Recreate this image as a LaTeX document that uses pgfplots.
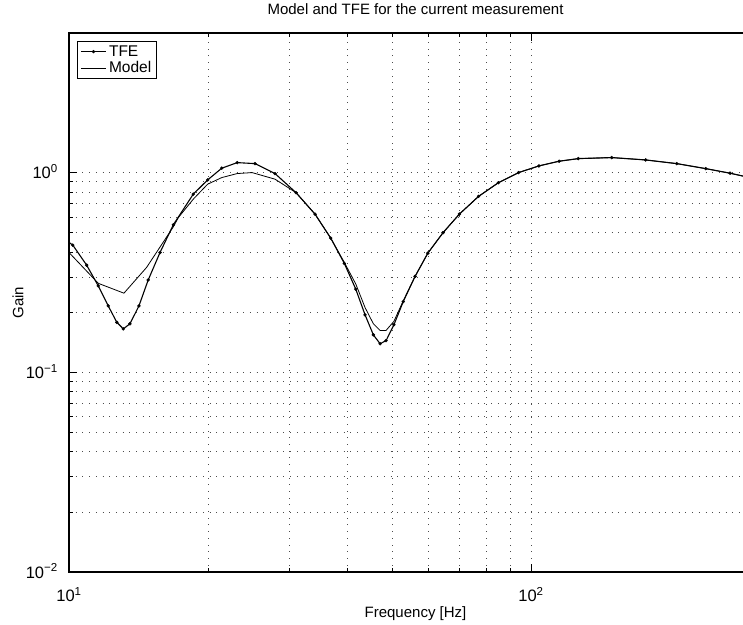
\documentclass[border=0pt]{standalone}
\usepackage{fontspec}
\setmainfont{Liberation Sans}
\usepackage{pgfplots}
\pgfplotsset{compat=1.18}
\begin{document}
\begin{tikzpicture}
\path[use as bounding box] (-69pt,-52pt) rectangle (674pt,572pt);
\begin{loglogaxis}[
  scale only axis, width=693pt, height=539pt,
  at={(0pt,0pt)}, anchor=south west,
  xmin=10, xmax=316.2, ymin=0.01, ymax=5,
  xtick={10,100}, xticklabels={10\textsuperscript{1},10\textsuperscript{2}},
  ytick={0.01,0.1,1}, yticklabels={10\textsuperscript{−2},10\textsuperscript{−1},10\textsuperscript{0}},
  tick label style={font=\fontsize{16.5}{18}\selectfont},
  xticklabel style={anchor=base, inner sep=0pt, yshift=-29.7pt},
  yticklabel style={anchor=base east, inner sep=0pt, xshift=-11pt, yshift=-6pt},
  tick align=inside, xtick pos=both, ytick pos=both,
  major tick length=8pt, minor tick length=4.5pt,
  every tick/.style={black, line width=0.6pt},
  grid=both,
  major grid style={black!70, line width=0.7pt, dash pattern=on 0.7pt off 6pt},
  minor grid style={black!70, line width=0.7pt, dash pattern=on 0.7pt off 6pt},
  axis line style={black, line width=1.3pt},
  title={Model and TFE for the current measurement},
  title style={font=\fontsize{15}{17}\selectfont, at={(axis description cs:0.5,1)}, anchor=base, yshift=13pt},
  xlabel={Frequency [Hz]},
  xlabel style={font=\fontsize{15}{17}\selectfont, at={(axis description cs:0.5,-0.0853)}, anchor=base},
  ylabel={Gain},
  ylabel style={font=\fontsize{15}{17}\selectfont, at={(axis description cs:-0.066,0.5)}, anchor=base, rotate=0},
  legend style={at={(axis description cs:0.01154,0.985)}, anchor=north west, draw=black, line width=0.9pt,
    font=\fontsize{15.5}{17}\selectfont, inner xsep=3pt, inner ysep=1.5pt, row sep=-1pt,
    nodes={inner sep=2.5pt}},
  legend cell align=left,
  legend image code/.code={\draw[mark repeat=2,mark phase=2,#1] plot coordinates {(0pt,0pt) (12.5pt,0pt) (25pt,0pt)};},
]
\addplot[black, line width=1.1pt, mark=*, mark size=1.5pt, mark options={solid, line width=0.4pt}] coordinates {
(9.7,0.47) (10.19,0.4335) (10.92,0.344) (11.57,0.271) (12.16,0.215) (12.69,0.178) (13.11,0.165)
(13.55,0.175) (14.17,0.215) (14.84,0.290) (15.74,0.398) (16.82,0.548) (18.58,0.78) (19.96,0.919)
(21.41,1.052) (23.13,1.122) (25.27,1.109) (27.92,0.989) (31.0,0.794) (34.09,0.619) (36.85,0.47)
(39.44,0.351) (41.75,0.261) (43.73,0.194) (45.58,0.154) (47.13,0.139) (48.55,0.144) (50.5,0.173)
(52.9,0.226) (56.1,0.302) (59.8,0.395) (64.5,0.50) (70,0.62) (77,0.76) (85,0.89) (94,1.0)
(104,1.08) (115,1.14) (126.6,1.175) (149.5,1.189) (177.1,1.157) (206.8,1.109) (238.8,1.047)
(269.6,0.993) (300,0.94) (330,0.89)
};
\addlegendentry{TFE}
\addplot[black, line width=0.8pt] coordinates {
(10,0.398) (11.57,0.279) (13.15,0.249) (14.72,0.335) (16.82,0.535) (17.25,0.596) (18.58,0.736)
(19.96,0.875) (21.41,0.944) (23.13,0.989) (24.9,1.0) (27.92,0.927) (31.0,0.794) (34.09,0.619)
(36.85,0.47) (39.44,0.355) (41.75,0.277) (43.73,0.211) (45.58,0.175) (47.13,0.162) (48.55,0.162)
(50.5,0.18) (52.9,0.228) (56.1,0.302) (59.8,0.395) (64.5,0.50) (70,0.62) (77,0.76) (85,0.89)
(94,1.0) (104,1.08) (115,1.14) (126.6,1.175) (149.5,1.189) (177.1,1.157) (206.8,1.109)
(238.8,1.047) (269.6,0.993) (300,0.94) (330,0.89)
};
\addlegendentry{Model}
\end{loglogaxis}
\end{tikzpicture}
\end{document}
